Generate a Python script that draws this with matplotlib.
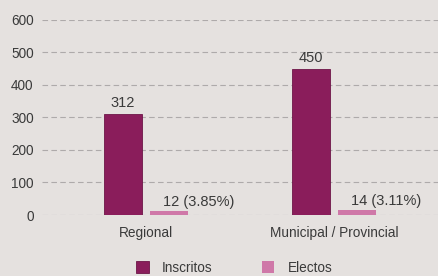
import matplotlib
matplotlib.use("Agg")
import matplotlib.pyplot as plt
from matplotlib.patches import Patch

categories = ["Regional", "Municipal / Provincial"]
inscritos = [312, 450]
electos = [12, 14]
electos_pct = ["3.85%", "3.11%"]
yticks = [0, 100, 200, 300, 400, 500, 600]

C_INS = "#8a1d5b"
C_ELE = "#cf78a8"
BG = "#e5e1df"
TXT = "#3a3a3a"

plt.rcParams["font.family"] = ["Liberation Sans", "DejaVu Sans"]

fig = plt.figure(figsize=(4.38, 2.76), dpi=100, facecolor=BG)
ax = fig.add_axes([0.096, 0.221, 0.904, 0.707], facecolor=BG)

x = list(range(len(categories)))
w = 0.2
off = 0.122
xi = [v - off for v in x]
xe = [v + off for v in x]
ax.bar(xi, inscritos, width=w, color=C_INS, edgecolor="#6e1548", linewidth=0.6, zorder=3)
ax.bar(xe, electos, width=w, color=C_ELE, zorder=3)

for xx, v in zip(xi, inscritos):
    ax.text(xx, v + 12, str(v), ha="center", va="bottom", fontsize=10.5, color=TXT)
for xx, v, p in zip(xe, electos, electos_pct):
    ax.text(xx - 0.03, v + 6, f"{v} ({p})", ha="left", va="bottom", fontsize=10.5, color=TXT)

ax.set_xlim(-0.553, 1.553)
ax.set_ylim(0, 600)
ax.set_yticks(yticks)
ax.yaxis.grid(True, linestyle=(0, (5, 3)), color="#aeaaaa", linewidth=0.8, zorder=0)
ax.set_axisbelow(True)
ax.set_xticks(x)
ax.set_xticklabels(categories)
ax.tick_params(axis="both", length=0, labelsize=9.8, labelcolor=TXT)
ax.tick_params(axis="x", pad=8)
ax.tick_params(axis="y", pad=6)
for s in ax.spines.values():
    s.set_visible(False)

handles = [Patch(facecolor=C_INS, edgecolor="#6e1548", linewidth=0.6),
           Patch(facecolor=C_ELE)]
fig.legend(handles, ["Inscritos", "Electos"], loc="lower center",
           bbox_to_anchor=(0.535, -0.04), ncol=2, frameon=False, fontsize=9.8,
           handlelength=0.9, handleheight=0.9, columnspacing=3.6, handletextpad=1.0,
           labelcolor=TXT)

fig.savefig("out.png", dpi=100, facecolor=BG)
